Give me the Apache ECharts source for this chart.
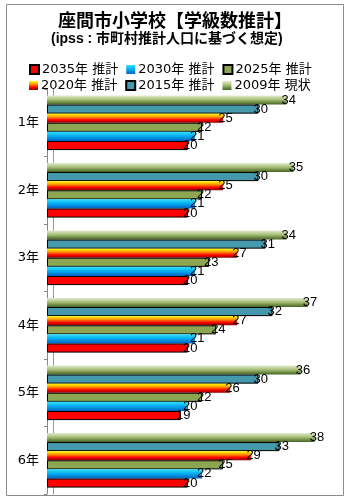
<!DOCTYPE html>
<html><head><meta charset="utf-8">
<script src="https://cdn.jsdelivr.net/npm/echarts@6/dist/echarts.min.js"></script>
<style>html,body{margin:0;padding:0;background:#fff}#c{width:350px;height:500px}</style>
</head><body><div id="c"></div>
<script>
var categories = ['1年','2年','3年','4年','5年','6年'];
var s2009 = [34,35,34,37,36,38];
var s2015 = [30,30,31,32,30,33];
var s2020 = [25,25,27,27,26,29];
var s2025 = [22,22,23,24,22,25];
var s2030 = [21,21,21,21,20,22];
var s2035 = [20,20,20,20,19,20];
var names = ['2009年 現状','2015年 推計','2020年 推計','2025年 推計','2030年 推計','2035年 推計'];

var FONT = '"DejaVu Sans", "Noto Sans CJK JP", sans-serif';
var LAB = '"Liberation Sans", "Noto Sans CJK JP", sans-serif';
var CJK = '"Noto Sans CJK JP", sans-serif';
function lg(stops){return {type:'linear',x:0,y:0,x2:0,y2:1,colorStops:stops.map(function(s){return {offset:s[0],color:s[1]};})};}
var styles = [
  {color: lg([[0,'#e4ecd2'],[0.45,'#a9c07a'],[1,'#456320']]), borderWidth:0},
  {color:'#4499ad', borderColor:'#000', borderWidth:1},
  {color: lg([[0,'#ffff00'],[0.35,'#ff9900'],[0.7,'#ff0000'],[1,'#8a0000']]), borderWidth:0},
  {color:'#8ca652', borderColor:'#000', borderWidth:1},
  {color: lg([[0,'#33e0ff'],[0.5,'#00a8ec'],[1,'#0062c4']]), borderWidth:0},
  {color:'#ff0000', borderColor:'#000', borderWidth:1}
];
var data = [s2009,s2015,s2020,s2025,s2030,s2035];
var series = data.map(function(d,i){
  return {name:names[i], type:'bar', data:d, barGap:'0%', barCategoryGap:'19%',
    itemStyle:styles[i],
    label:{show:true, position:'right', distance:0, offset:[-5,0], color:'#000', fontSize:13, fontFamily:LAB},
    z:3};
});
var chart = echarts.init(document.getElementById('c'), null, {renderer:'canvas'});
chart.setOption({
  backgroundColor:'#fff',
  animation:false,
  title:[
    {text:'座間市小学校【学級数推計】', left:'center', top:6, textStyle:{fontSize:18, fontWeight:'bold', color:'#000', fontFamily:CJK}},
    {text:'(ipss : 市町村推計人口に基づく想定)', left:46, top:27, textStyle:{fontSize:14, fontWeight:'bold', color:'#000', fontFamily:LAB}}
  ],
  legend:[
    {data:[names[5],names[4],names[3]], left:24, top:58, itemWidth:9, itemHeight:9, itemGap:8, icon:'rect',
      textStyle:{fontSize:13, color:'#000', fontFamily:FONT, padding:[0,0,0,-2]}},
    {data:[names[2],names[1],names[0]], left:24, top:74, itemWidth:9, itemHeight:9, itemGap:8, icon:'rect',
      textStyle:{fontSize:13, color:'#000', fontFamily:FONT, padding:[0,0,0,-2]}}
  ],
  grid:{left:47, right:7, top:89, bottom:6, containLabel:false},
  xAxis:{type:'value', min:0, max:42, show:false},
  yAxis:[
    {type:'category', data:categories, inverse:true, position:'left', offset:2,
      axisLine:{show:true, lineStyle:{color:'#868686', width:1}},
      axisTick:{show:true, length:3, lineStyle:{color:'#868686'}},
      axisLabel:{color:'#000', fontSize:13, fontFamily:FONT, margin:6, padding:[9,0,0,0]},
      splitLine:{show:false}},
    {type:'category', data:categories, inverse:true, position:'left', offset:-6,
      axisLine:{show:true, lineStyle:{color:'#9a9a9a', width:1}},
      axisTick:{show:false}, axisLabel:{show:false}, splitLine:{show:false}, z:0}
  ],
  graphic:[{type:'rect', shape:{x:6.5, y:4.5, width:337, height:491}, style:{fill:null, stroke:'#8c8c8c', lineWidth:1}, z:-1}],
  series:series
});
</script></body></html>
